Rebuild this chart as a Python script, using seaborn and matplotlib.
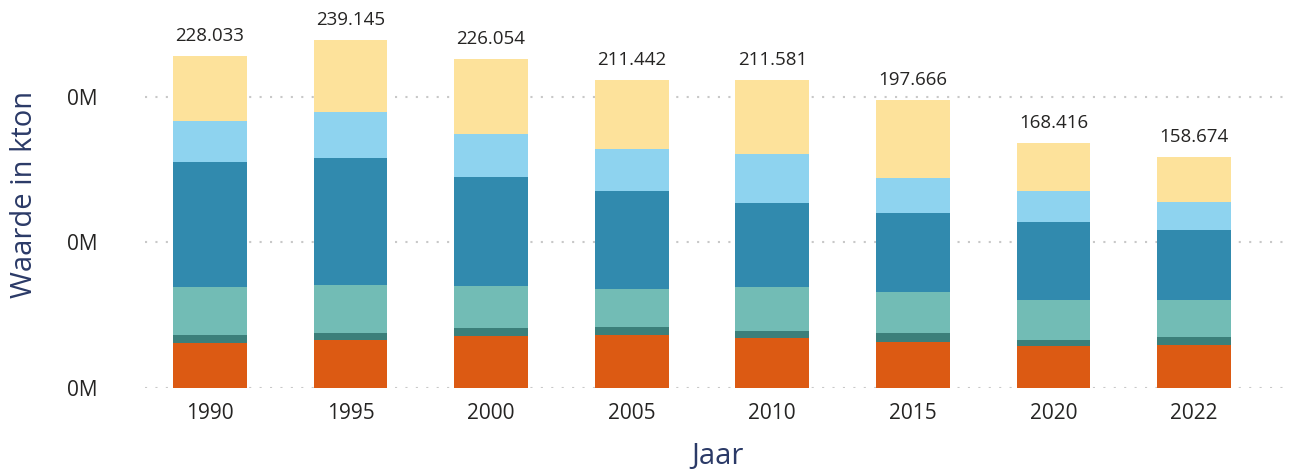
import matplotlib
matplotlib.use("Agg")
import matplotlib.pyplot as plt
import seaborn as sns
import numpy as np
import pandas as pd
from matplotlib.ticker import FuncFormatter, FixedLocator

years = ["1990", "1995", "2000", "2005", "2010", "2015", "2020", "2022"]
# segments in kton, bottom to top
seg_orange = [31200, 33000, 36000, 36700, 34000, 31800, 28600, 29800]
seg_darkteal = [5000, 4800, 5000, 5000, 5000, 6000, 4200, 5000]
seg_teal = [33200, 33000, 28900, 26600, 30400, 28400, 27900, 25700]
seg_blue = [85900, 87600, 75100, 67100, 57700, 54300, 53600, 48100]
seg_lightblue = [28200, 31300, 29600, 28900, 34000, 23600, 21100, 19200]
seg_yellow = [44533, 49445, 51454, 47142, 50481, 53566, 33016, 30874]
totals = [228033, 239145, 226054, 211442, 211581, 197666, 168416, 158674]

segments = [seg_orange, seg_darkteal, seg_teal, seg_blue, seg_lightblue, seg_yellow]
colors = ["#DC5A13", "#3B7F7A", "#72BCB5", "#318AAE", "#8ED3EF", "#FDE29B"]

sns.set_theme(style="white")
plt.rcParams["font.family"] = ["Open Sans", "DejaVu Sans"]

fig = plt.figure(figsize=(12.94, 4.76), dpi=100)
ax = fig.add_axes([0.112, 0.185, 0.885, 0.815])

cum = np.cumsum(np.array(segments, dtype=float), axis=0)
for i in range(len(segments) - 1, -1, -1):
    df = pd.DataFrame({"Jaar": years, "Waarde": cum[i]})
    sns.barplot(data=df, x="Jaar", y="Waarde", color=colors[i], width=0.526,
                errorbar=None, saturation=1, ax=ax, edgecolor="none", linewidth=0)

for i, t in enumerate(totals):
    ax.annotate(f"{t:,.0f}".replace(",", "."), xy=(i, cum[-1][i]), xytext=(0, 8),
                textcoords="offset points", ha="center", va="bottom",
                fontsize=13.5, color="#252423")

ax.set_ylim(0, 266700)
ax.set_xlim(-0.462, 7.683)
ax.yaxis.set_major_locator(FixedLocator([0, 100000, 200000]))
ax.yaxis.set_major_formatter(FuncFormatter(lambda v, p: f"{v/1e6:.0f}M"))
for y in [0, 100000, 200000]:
    ax.axhline(y, color="#C8C8C8", linestyle=(0, (1, 4)), linewidth=1.5, zorder=0)
ax.set_axisbelow(True)
for s in ax.spines.values():
    s.set_visible(False)
ax.tick_params(axis="both", length=0, labelsize=15, colors="#252423")
ax.tick_params(axis="y", pad=34)
ax.tick_params(axis="x", pad=11)
ax.set_xlabel("Jaar", fontsize=21, color="#2B3A67", labelpad=13)
ax.set_ylabel("Waarde in kton", fontsize=21, color="#2B3A67", labelpad=20)

fig.savefig("out.png", dpi=100)
